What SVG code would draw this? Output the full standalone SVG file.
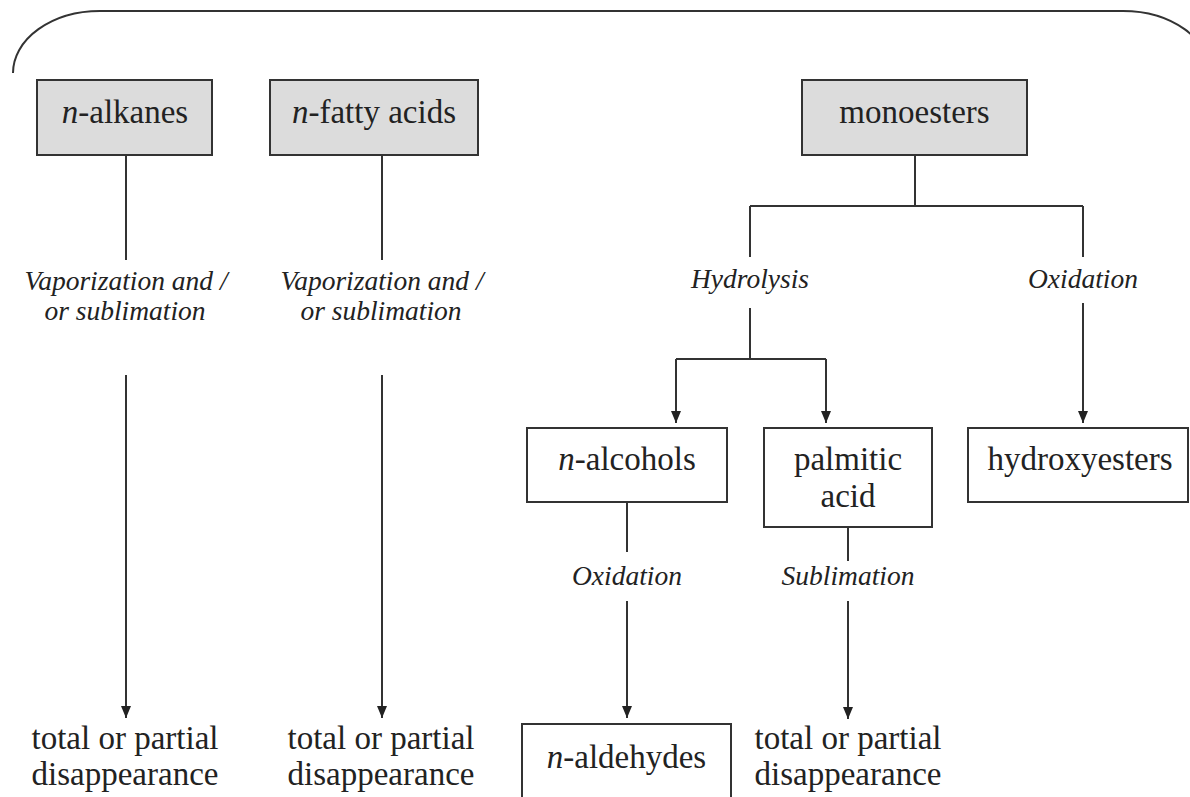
<svg xmlns="http://www.w3.org/2000/svg" width="1190" height="797" viewBox="0 0 1190 797">
<style>
text{fill:#222;text-anchor:middle}
.t{font-size:33px}
.i{font-size:27.5px;font-style:italic}
.em{font-style:italic}
.box{stroke:#333;stroke-width:2;fill:#fff}
.gray{fill:#dcdcdc}
.ln{stroke:#333;stroke-width:2;fill:none}
</style>
<defs>
<marker id="ah" markerUnits="userSpaceOnUse" markerWidth="13" markerHeight="11" refX="12" refY="5" orient="auto">
<path d="M0,0 L12,5 L0,10 z" fill="#222"/>
</marker>
</defs>
<g id="frame">
<path class="ln" d="M13,73 A87,62 0 0 1 100,11 L1123,11 A87,62 0 0 1 1210,73"/>
</g>
<g id="connectors">
<path class="ln" d="M126,155 V260"/>
<path class="ln" d="M126,375 V718" marker-end="url(#ah)"/>
<path class="ln" d="M382,155 V260"/>
<path class="ln" d="M382,375 V718" marker-end="url(#ah)"/>
<path class="ln" d="M915,155 V206 M750,206 H1083 M750,206 V257 M1083,206 V257"/>
<path class="ln" d="M750,308 V359 M676,359 H826"/>
<path class="ln" d="M676,359 V423" marker-end="url(#ah)"/>
<path class="ln" d="M826,359 V423" marker-end="url(#ah)"/>
<path class="ln" d="M1083,303 V423" marker-end="url(#ah)"/>
<path class="ln" d="M627,502 V552"/>
<path class="ln" d="M627,601 V718" marker-end="url(#ah)"/>
<path class="ln" d="M848,527 V561"/>
<path class="ln" d="M848,601 V719" marker-end="url(#ah)"/>
</g>
<g font-family="'Liberation Serif', 'Times New Roman', Tinos, 'DejaVu Serif', serif">
<g id="labels">
<text class="i" x="126" y="290">Vaporization and /</text>
<text class="i" x="125" y="320">or sublimation</text>
<text class="i" x="382" y="290">Vaporization and /</text>
<text class="i" x="381" y="320">or sublimation</text>
<text class="i" x="750" y="288">Hydrolysis</text>
<text class="i" x="1083" y="288">Oxidation</text>
<text class="i" x="627" y="585">Oxidation</text>
<text class="i" x="848" y="585">Sublimation</text>
</g>
<g id="n-alkanes">
<rect class="box gray" x="37" y="80" width="175" height="75"/>
<text class="t" x="125" y="123"><tspan class="em">n</tspan>-alkanes</text>
</g>
<g id="n-fatty-acids">
<rect class="box gray" x="270" y="80" width="208" height="75"/>
<text class="t" x="374" y="123"><tspan class="em">n</tspan>-fatty acids</text>
</g>
<g id="monoesters">
<rect class="box gray" x="802" y="80" width="225" height="75"/>
<text class="t" x="914.5" y="123">monoesters</text>
</g>
<g id="n-alcohols">
<rect class="box" x="527" y="428" width="200" height="74"/>
<text class="t" x="627" y="470"><tspan class="em">n</tspan>-alcohols</text>
</g>
<g id="palmitic-acid">
<rect class="box" x="764" y="428" width="168" height="99"/>
<text class="t" x="848" y="470">palmitic</text>
<text class="t" x="848" y="507">acid</text>
</g>
<g id="hydroxyesters">
<rect class="box" x="968" y="428" width="220" height="74"/>
<text class="t" x="1080" y="470">hydroxyesters</text>
</g>
<g id="n-aldehydes">
<rect class="box" x="522" y="724" width="209" height="90"/>
<text class="t" x="626.5" y="768"><tspan class="em">n</tspan>-aldehydes</text>
</g>
<g id="disappearance-1">
<text class="t" x="125" y="749">total or partial</text>
<text class="t" x="125" y="785">disappearance</text>
</g>
<g id="disappearance-2">
<text class="t" x="381" y="749">total or partial</text>
<text class="t" x="381" y="785">disappearance</text>
</g>
<g id="disappearance-3">
<text class="t" x="848" y="749">total or partial</text>
<text class="t" x="848" y="785">disappearance</text>
</g>
</g>
</svg>
